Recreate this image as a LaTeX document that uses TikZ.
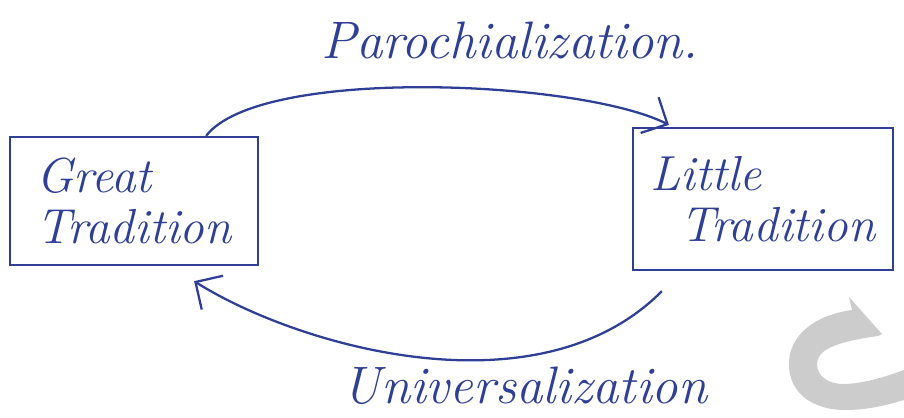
\documentclass[tikz,border=0pt]{standalone}
\usepackage{tikz}
\usetikzlibrary{arrows.meta, positioning}
\usepackage{xcolor}
\definecolor{ink}{HTML}{2E3F95}

\begin{document}
\begin{tikzpicture}[
    x=0.02cm, y=-0.02cm,
    every node/.style={font=\fontsize{28}{29}\selectfont\itshape, text=ink},
    trad/.style={rectangle, draw=ink, line width=1.3pt, align=left, inner sep=0pt},
    procname/.style={inner sep=0pt, font=\fontsize{30}{34}\selectfont\itshape},
    flow/.style={draw=ink, line width=1.3pt, -{Straight Barb[length=4mm, width=8mm]}}
  ]

  \useasboundingbox (0,0) rectangle (904,417);

  \node[trad, minimum width=4.96cm, minimum height=2.56cm] (great) at (134,201) {Great\\Tradition};
  \node[trad, minimum width=5.2cm, minimum height=2.84cm] (little) at (763,199) {Little\\\hspace*{0.6em}Tradition};

  \node[procname] (paro) at (510,40) {Parochialization.};
  \node[procname] (univ) at (525,386) {Universalization};

  \draw[flow] ([shift={(-53,0)}]great.north east)
    .. controls (260,66) and (580,80) .. ([shift={(37,-2)}]little.north west);
  \draw[flow] ([shift={(30,20)}]little.south west)
    .. controls (538,416) and (297,346) .. ([shift={(-65,15)}]great.south east);

  % mark in the corner
  \fill[black!20] (849,297) -- (852,310) .. controls (815,315) and (789,335) .. (789,364)
    .. controls (789,395) and (815,410) .. (845,410) .. controls (870,410) and (890,404) .. (904,400)
    -- (904,370) .. controls (885,377) and (862,384) .. (843,384)
    .. controls (828,384) and (817,376) .. (817,364) .. controls (817,350) and (835,342) .. (878,336)
    -- (882,334) -- cycle;

\end{tikzpicture}
\end{document}
